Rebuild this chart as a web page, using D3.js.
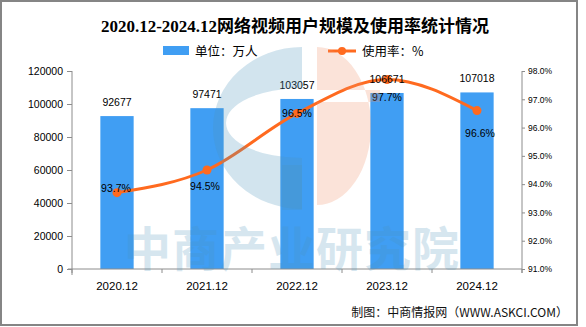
<!DOCTYPE html>
<html><head><meta charset="utf-8">
<script src="https://cdn.jsdelivr.net/npm/d3@7/dist/d3.min.js"></script>
<style>
html,body{margin:0;padding:0;background:#fff;}
svg{display:block;}
</style></head>
<body>
<svg id="c" width="586" height="327"></svg>
<script>
const categories = ["2020.12","2021.12","2022.12","2023.12","2024.12"];
const users = [92677, 97471, 103057, 106671, 107018];
const rates = [93.7, 94.5, 96.5, 97.7, 96.6];
const leftTicks = [0,20000,40000,60000,80000,100000,120000];
const rightTicks = [91,92,93,94,95,96,97,98];
const rateLabelOffsets = [[-1,-5],[-2,16],[0,0],[0,18],[3,22]];

const svg = d3.select("#c");
const m = {l:72, r:522, t:71, b:269};
const x = d3.scaleBand().domain(categories).range([m.l, m.r]).paddingInner(0.63).paddingOuter(0.315);
const xb = d3.scaleBand().domain(categories).range([m.l, m.r]);
const yL = d3.scaleLinear().domain([0,120000]).range([m.b, m.t]);
const yR = d3.scaleLinear().domain([91,98]).range([m.b, m.t]);
const cx = d => xb(d) + xb.bandwidth()/2;

// border
svg.append("rect").attr("x",1).attr("y",1).attr("width",576).attr("height",324)
  .attr("fill","#fff").attr("stroke","#858585").attr("stroke-width",2);

// title
svg.append("text").attr("x",295).attr("y",32).attr("text-anchor","middle")
  .attr("font-family","'Liberation Serif','Noto Sans CJK SC'").attr("font-weight","bold")
  .attr("font-size",17).attr("fill","#000")
  .text("2020.12-2024.12网络视频用户规模及使用率统计情况");

// legend
svg.append("rect").attr("x",163).attr("y",46).attr("width",26).attr("height",9).attr("fill","#409EF3");
svg.append("text").attr("x",195).attr("y",56).attr("font-family","'Noto Sans CJK SC'").attr("font-size",12.5).text("单位：万人");
svg.append("line").attr("x1",328).attr("x2",356).attr("y1",51).attr("y2",51).attr("stroke","#FF6A1F").attr("stroke-width",3);
svg.append("circle").attr("cx",342).attr("cy",51).attr("r",4).attr("fill","#FF6A1F");
svg.append("text").attr("x",362).attr("y",56).attr("font-family","'Noto Sans CJK SC'").attr("font-size",12.5).text("使用率：%");

// bars
svg.append("g").selectAll("rect").data(users).join("rect")
  .attr("x",(d,i)=>x(categories[i])).attr("width",x.bandwidth())
  .attr("y",d=>yL(d)).attr("height",d=>yL(0)-yL(d)).attr("fill","#409EF3");

// axes
const axisColor = "#8c8c8c";
const gL = svg.append("g").attr("transform",`translate(${m.l},0)`)
  .call(d3.axisLeft(yL).tickValues(leftTicks).tickSize(5).tickPadding(4).tickFormat(d3.format("d")));
gL.select(".domain").remove();
gL.append("line").attr("x1",0).attr("x2",0).attr("y1",m.t).attr("y2",m.b+6).attr("stroke",axisColor);
gL.selectAll(".tick line").attr("stroke",axisColor);
gL.selectAll("text").attr("font-family","'Liberation Sans'").attr("font-size",10.5).attr("fill","#000");

const gR = svg.append("g").attr("transform",`translate(${m.r},0)`)
  .call(d3.axisRight(yR).tickValues(rightTicks).tickSize(3).tickPadding(3).tickFormat(d=>d3.format(".1f")(d)+"%"));
gR.select(".domain").remove();
gR.append("line").attr("x1",0).attr("x2",0).attr("y1",m.t).attr("y2",m.b+4).attr("stroke",axisColor);
gR.selectAll(".tick line").attr("stroke",axisColor);
gR.selectAll("text").attr("font-family","'Liberation Sans'").attr("font-size",8.5).attr("fill","#000");

const gX = svg.append("g").attr("transform",`translate(0,${m.b})`)
  .call(d3.axisBottom(xb).tickSize(0).tickPadding(13));
gX.select(".domain").remove();
gX.append("line").attr("x1",m.l-4).attr("x2",m.r).attr("y1",0).attr("y2",0).attr("stroke",axisColor);
gX.selectAll(".bt").data(categories).join("line")
  .attr("x1",d=>xb(d)+xb.bandwidth()).attr("x2",d=>xb(d)+xb.bandwidth()).attr("y1",0).attr("y2",4).attr("stroke",axisColor);
gX.append("line").attr("x1",m.l).attr("x2",m.l).attr("y1",0).attr("y2",4).attr("stroke",axisColor);
gX.selectAll("text").attr("font-family","'Liberation Sans'").attr("font-size",11.5).attr("fill","#000");

// line
const pts = rates.map((r,i)=>[cx(categories[i]), yR(r)]);
svg.append("path").attr("d", d3.line().curve(d3.curveMonotoneX)(pts))
  .attr("fill","none").attr("stroke","#FF6A1F").attr("stroke-width",3);
svg.append("g").selectAll("circle").data(pts).join("circle")
  .attr("cx",d=>d[0]).attr("cy",d=>d[1]).attr("r",4.5).attr("fill","#FF6A1F");

// bar labels
svg.append("g").selectAll("text").data(users).join("text")
  .attr("x",(d,i)=>cx(categories[i])).attr("y",d=>yL(d)-10).attr("text-anchor","middle")
  .attr("font-family","'Liberation Sans'").attr("font-size",10.5).attr("fill","#000").text(d=>d);

// rate labels
svg.append("g").selectAll("text").data(rates).join("text")
  .attr("x",(d,i)=>cx(categories[i])+rateLabelOffsets[i][0])
  .attr("y",(d,i)=>yR(d)+rateLabelOffsets[i][1]+4)
  .attr("text-anchor","middle")
  .attr("font-family","'Liberation Sans'").attr("font-size",10.5).attr("fill","#000").text(d=>d.toFixed(1)+"%");

// watermark
const wm = svg.append("g").attr("pointer-events","none");
const blue = "rgb(75,147,187)", peach = "rgb(239,143,103)";
const outer = `M302,47 A89,81 0 0 0 302,209 Z`;
const hole = `M302,88 A76,35 0 0 0 302,158 Z`;
wm.append("path").attr("d", outer + " " + hole).attr("fill-rule","evenodd").attr("fill",blue).attr("opacity",0.25);
wm.append("rect").attr("x",282).attr("y",165).attr("width",20).attr("height",45).attr("fill",blue).attr("opacity",0.25);
const dOuter = `M317,47 A54,79 0 0 1 317,205 Z`;
const band = `M317,90 L380,90 L380,102 L317,102 Z`;
wm.append("path").attr("d", dOuter + " " + band).attr("fill-rule","evenodd").attr("fill",peach).attr("opacity",0.25);
wm.append("text").attr("x",292).attr("y",266).attr("text-anchor","middle")
  .attr("font-family","'Noto Sans CJK SC'").attr("font-weight","bold").attr("font-size",47)
  .attr("letter-spacing",1).attr("fill",blue).attr("opacity",0.22).text("中商产业研究院");

// source
svg.append("text").attr("x",568).attr("y",317).attr("text-anchor","end")
  .attr("font-family","'Noto Sans CJK SC'").attr("font-size",12).attr("fill","#111")
  .text("制图：中商情报网（WWW.ASKCI.COM）");
</script>
</body></html>
